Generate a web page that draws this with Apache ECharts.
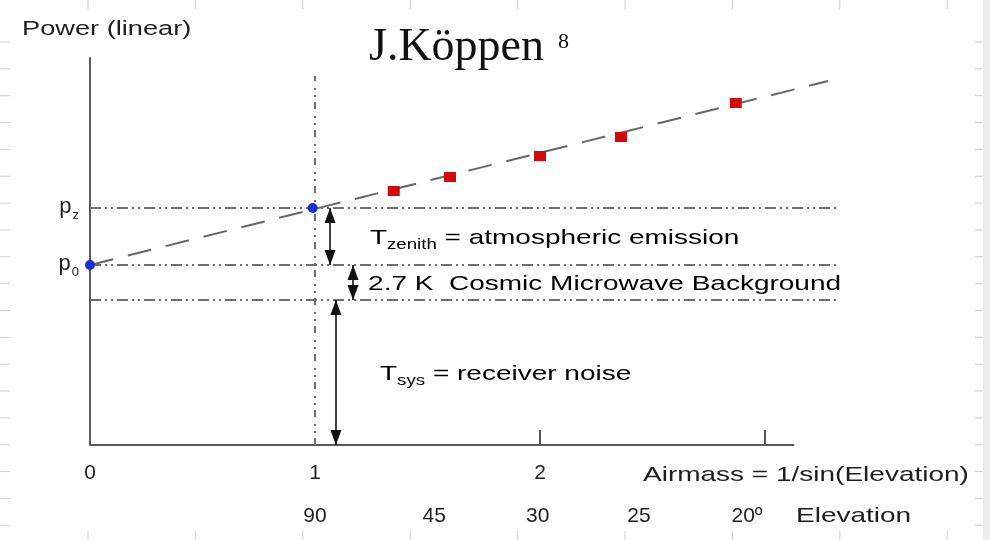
<!DOCTYPE html>
<html>
<head>
<meta charset="utf-8">
<script src="https://cdn.jsdelivr.net/npm/echarts@6/dist/echarts.min.js"></script>
<style>
  html, body { margin: 0; padding: 0; background: #fff; }
  #main { width: 990px; height: 540px; }
</style>
</head>
<body>
<div id="main"></div>
<script>
// power levels (arbitrary linear units)
var p0 = 1.8;      // zero-airmass intercept
var pz = 2.37;     // power at zenith (airmass 1)
var cmb = 1.45;    // top of receiver noise

// measured points
var blueX = [0, 0.99];
var blueY = [1.8, 2.37];
var redX = [1.35, 1.6, 2.0, 2.36, 2.87];
var redY = [2.54, 2.68, 2.89, 3.08, 3.42];

// fitted line ends
var fitX = [0, 3.28];
var fitY = [1.8, 3.64];

// axis ticks
var airmassTicks = [0, 1, 2];
var airmassMarks = [2, 3];
var elevPos = [1, 1.53, 1.99, 2.44, 2.92];
var elevLabels = ['90', '45', '30', '25', '20º'];

var chart = echarts.init(document.getElementById('main'));
var font = 'Liberation Sans';
var ink = '#1e1e1e';
var guide = '#6e6e6e';
var stretch = 1.333;

function zip(xs, ys) {
    return xs.map(function (x, i) { return [x, ys[i]]; });
}

// dash-dot-dot guide lines
function hGuide(y) {
    return [{ coord: [0, y], lineStyle: { type: [11, 4, 2, 4, 2, 4], color: guide, width: 2 } }, { coord: [3.33, y] }];
}
// double headed arrow, size set on each end (a nested array on markLine is read wrong)
function arrow(x, y1, y2) {
    return [{ coord: [x, y1], symbolSize: [11, 15] }, { coord: [x, y2], symbolSize: [11, 15] }];
}

var option = {
    animation: false,
    backgroundColor: '#fff',
    grid: { left: 90, right: 150, top: 58, bottom: 95 },
    xAxis: [{
        type: 'value', min: 0, max: 10 / 3,
        axisLine: { show: false },
        splitLine: { show: false },
        axisTick: { show: true, inside: true, length: 15, customValues: airmassMarks, lineStyle: { color: '#555', width: 2 } },
        axisLabel: { customValues: airmassTicks, margin: 18, fontFamily: font, fontSize: 21, color: ink }
    }, {
        type: 'value', min: 0, max: 10 / 3, position: 'bottom', offset: 45,
        axisLine: { show: false },
        splitLine: { show: false },
        axisTick: { show: false },
        axisLabel: {
            customValues: elevPos, margin: 16, fontFamily: font, fontSize: 21, color: ink,
            formatter: function (v) {
                for (var i = 0; i < elevPos.length; i++) {
                    if (Math.abs(elevPos[i] - v) < 1e-6) return elevLabels[i];
                }
                return '';
            }
        }
    }],
    yAxis: {
        type: 'value', min: 0, max: 3.87,
        axisLine: { show: true, lineStyle: { color: '#5a5a5a', width: 2 } },
        axisTick: { show: false },
        splitLine: { show: false },
        axisLabel: {
            customValues: [p0, pz], margin: 11,
            formatter: function (v) {
                return Math.abs(v - pz) < 1e-6 ? '{p|p}{s|z}' : '{p|p}{s|0}';
            },
            rich: {
                p: { fontFamily: font, fontSize: 22, color: ink, verticalAlign: 'top', lineHeight: 24 },
                s: { fontFamily: font, fontSize: 13, color: ink, verticalAlign: 'top', lineHeight: 13, padding: [13, 0, 0, 1] }
            }
        }
    },
    series: [{
        name: 'fit',
        type: 'line',
        data: zip(fitX, fitY),
        symbol: 'none',
        silent: true,
        z: 2,
        lineStyle: { color: '#666', width: 2, type: [24, 15] },
        markLine: {
            silent: true,
            symbol: ['none', 'none'],
            label: { show: false },
            emphasis: { disabled: true },
            data: [
                [{ coord: [0, 0], lineStyle: { type: 'solid', color: '#5a5a5a', width: 2 } }, { coord: [3.13, 0] }],
                [{ coord: [1, 0], lineStyle: { type: [7, 5, 2, 5, 2, 7], color: guide, width: 2 } }, { coord: [1, 3.69] }],
                hGuide(pz),
                hGuide(p0),
                hGuide(cmb)
            ]
        }
    }, {
        name: 'zero',
        type: 'scatter',
        data: zip(blueX, blueY),
        symbol: 'circle',
        symbolSize: 10,
        z: 5,
        itemStyle: { color: '#1a2bd8', opacity: 1 },
        markLine: {
            silent: true,
            symbol: ['triangle', 'triangle'],
            symbolOffset: [[0, 7.5], [0, 7.5]],
            label: { show: false },
            emphasis: { disabled: true },
            lineStyle: { type: 'solid', color: '#111', width: 1.6 },
            data: [
                arrow(1.067, pz, p0),
                arrow(1.169, p0, cmb),
                arrow(1.093, cmb, 0)
            ]
        }
    }, {
        name: 'measured',
        type: 'scatter',
        data: zip(redX, redY),
        symbol: 'rect',
        symbolSize: [12, 10],
        z: 5,
        itemStyle: { color: '#d40a0a', opacity: 1 }
    }]
};
chart.setOption(option);

// annotations placed at data positions, text stretched like the slide
function at(x, y) { return chart.convertToPixel({ gridIndex: 0 }, [x, y]); }
var richNote = {
    m: { fontFamily: font, fontSize: 21, color: ink, lineHeight: 24, verticalAlign: 'top' },
    s: { fontFamily: font, fontSize: 14, color: ink, lineHeight: 14, verticalAlign: 'top', padding: [11, 0, 0, 0] }
};
var notes = [
    { text: '{m|T}{s|zenith}{m| = atmospheric emission}', x: 1.244, y: (pz + p0) / 2 },
    { text: '{m|2.7 K  Cosmic Microwave Background}', x: 1.236, y: (p0 + cmb) / 2 },
    { text: '{m|T}{s|sys}{m| = receiver noise}', x: 1.289, y: cmb / 2 }
];

var graphic = [];
// slide ruler marks round the edges
for (var k = 0; k < 9; k++) {
    var tx = 88 + 107.4 * k;
    graphic.push({ type: 'line', silent: true, shape: { x1: tx, y1: 0, x2: tx, y2: 9 }, style: { stroke: '#cfcfcf', lineWidth: 1 } });
    graphic.push({ type: 'line', silent: true, shape: { x1: tx, y1: 531, x2: tx, y2: 540 }, style: { stroke: '#cfcfcf', lineWidth: 1 } });
}
for (var j = 0; j < 19; j++) {
    var ty = 42 + 26.85 * j;
    graphic.push({ type: 'line', silent: true, shape: { x1: 0, y1: ty, x2: 10, y2: ty }, style: { stroke: '#cfcfcf', lineWidth: 1 } });
    graphic.push({ type: 'line', silent: true, shape: { x1: 975, y1: ty, x2: 983, y2: ty }, style: { stroke: '#cfcfcf', lineWidth: 1 } });
}
graphic.push({ type: 'rect', silent: true, shape: { x: 983, y: 0, width: 7, height: 540 }, style: { fill: '#ececec' } });

graphic.push({ type: 'text', x: 22, y: 29, scaleX: 1.36,
    style: { text: 'Power (linear)', fontFamily: font, fontSize: 20, fill: ink, align: 'left', verticalAlign: 'middle' } });
graphic.push({ type: 'text', x: 369, y: 48,
    style: { text: 'J.Köppen', fontFamily: 'Liberation Serif', fontSize: 46, fill: '#111', align: 'left', verticalAlign: 'middle' } });
graphic.push({ type: 'text', x: 558, y: 42,
    style: { text: '8', fontFamily: 'Liberation Serif', fontSize: 22, fill: '#111', align: 'left', verticalAlign: 'middle' } });
graphic.push({ type: 'text', x: 643, y: 475, scaleX: stretch,
    style: { text: 'Airmass = 1/sin(Elevation)', fontFamily: font, fontSize: 21, fill: ink, align: 'left', verticalAlign: 'middle' } });
graphic.push({ type: 'text', x: 796, y: 516, scaleX: stretch,
    style: { text: 'Elevation', fontFamily: font, fontSize: 21, fill: ink, align: 'left', verticalAlign: 'middle' } });

notes.forEach(function (n) {
    var p = at(n.x, n.y);
    // caps sit above the middle of the line box, nudge down a little
    graphic.push({ type: 'text', x: p[0], y: p[1] + 3, scaleX: stretch,
        style: { text: n.text, rich: richNote, align: 'left', verticalAlign: 'middle' } });
});

chart.setOption({ graphic: graphic });
</script>
</body>
</html>
